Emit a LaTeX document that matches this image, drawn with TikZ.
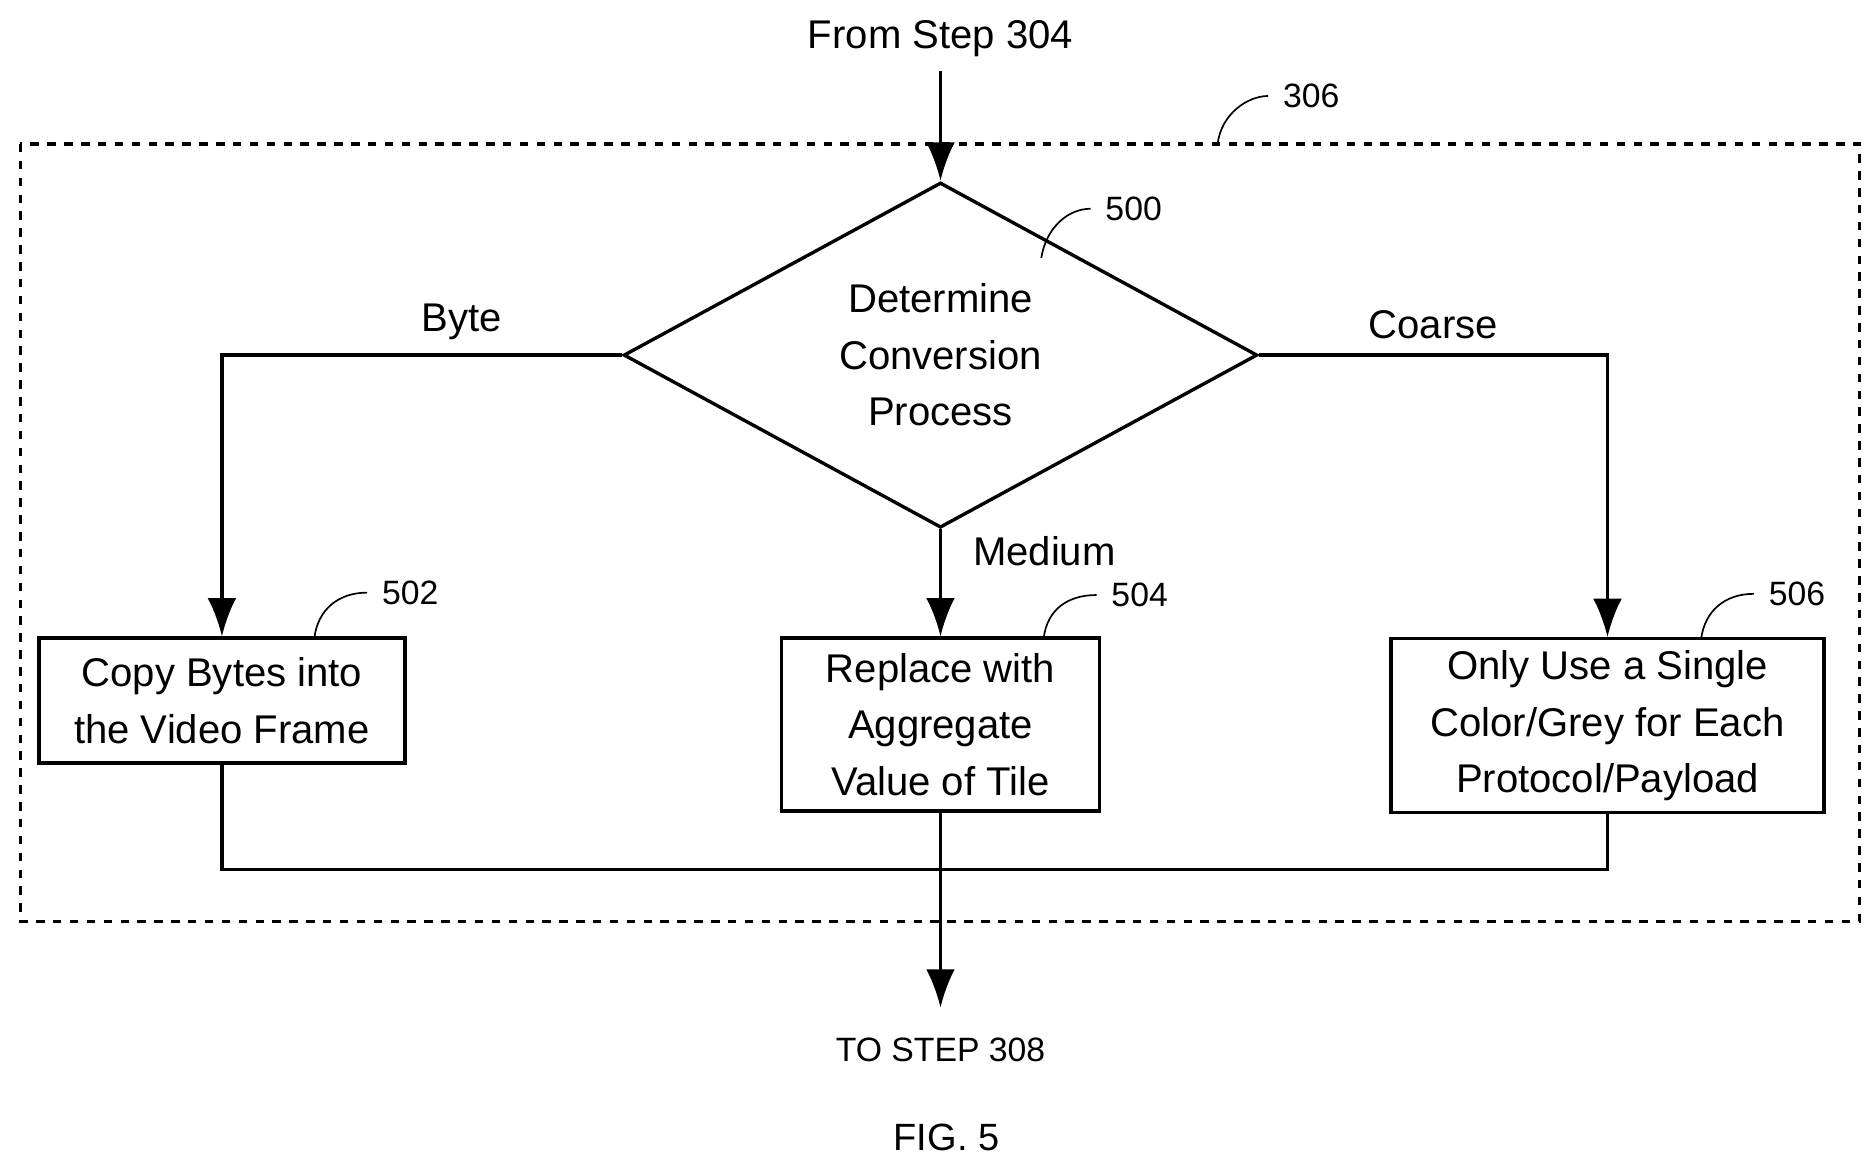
\documentclass[tikz,border=0pt]{standalone}
\usepackage{fontspec}
\setmainfont{Liberation Sans}
\usetikzlibrary{positioning, shapes.geometric, arrows.meta}
\tikzstyle{procbox}=[rectangle, draw, thick, align=center, inner sep=2pt, font=\fontsize{9.5}{13.4}\selectfont]
\tikzstyle{decision}=[diamond, draw, thick, align=center, minimum width=5.28cm, minimum height=2.32cm, inner sep=0pt, font=\fontsize{9.5}{13.4}\selectfont]
\tikzstyle{flow}=[thick, -{Latex[length=3.2mm, width=2.4mm]}]
\tikzstyle{wire}=[thick]
\tikzstyle{ref}=[font=\fontsize{8}{10}\selectfont]
\tikzstyle{lead}=[thin]

\begin{document}
\begin{tikzpicture}[x=0.01cm, y=-0.01cm]
  \useasboundingbox (0,0) rectangle (1563,975);

  % Cadre
  \draw[thick, dash pattern=on 2pt off 2pt] (17,120) rectangle (1550,768);
  \node[ref] (n306) at (1093,80) {306};
  \draw[lead] (1015,120) .. controls (1018,95) and (1040,80) .. (n306.west);

  % Noeuds
  \node[font=\fontsize{9.5}{12}\selectfont] (from) at (784,32) {From Step 304};
  \node[decision] (dec) at (784,296) {Determine\\Conversion\\Process};
  \node[procbox, minimum width=3.05cm, minimum height=1.04cm] (copy) at (185,584) {Copy Bytes into\\the Video Frame};
  \node[procbox, minimum width=2.65cm, minimum height=1.44cm] (repl) at (784,604) {Replace with\\Aggregate\\Value of Tile};
  \node[procbox, minimum width=3.61cm, minimum height=1.45cm] (only) at (1340,605) {Only Use a Single\\Color/Grey for Each\\Protocol/Payload};
  \node[ref] (to) at (784,875) {TO STEP 308};
  \node[font=\fontsize{9}{11}\selectfont] (fig) at (789,948) {FIG. 5};

  % Numeros
  \node[ref] (n500) at (945,174) {500};
  \node[ref] (n502) at (342,494) {502};
  \node[ref] (n504) at (950,496) {504};
  \node[ref] (n506) at (1498,495) {506};
  \draw[lead] (868,215) .. controls (872,190) and (890,174) .. (n500.west);
  \draw[lead] (262,532) .. controls (265,508) and (282,494) .. (n502.west);
  \draw[lead] (870,532) .. controls (873,508) and (890,496) .. (n504.west);
  \draw[lead] (1418,533) .. controls (1421,509) and (1438,495) .. (n506.west);

  % Connexions
  \coordinate (out) at (784,840);
  \draw[flow] (from) -- (dec.north);
  \draw[flow] (dec.west) -| node[pos=0.2, above, font=\fontsize{9.5}{12}\selectfont] {Byte} (copy.north);
  \draw[flow] (dec.east) -| node[pos=0.25, above, font=\fontsize{9.5}{12}\selectfont] {Coarse} (only.north);
  \draw[flow] (dec.south) -- node[pos=0.2, right=4pt, font=\fontsize{9.5}{12}\selectfont] {Medium} (repl.north);
  \draw[wire] (copy.south) |- (784,725) -| (only.south);
  \draw[flow] (repl.south) -- (out);
\end{tikzpicture}
\end{document}
